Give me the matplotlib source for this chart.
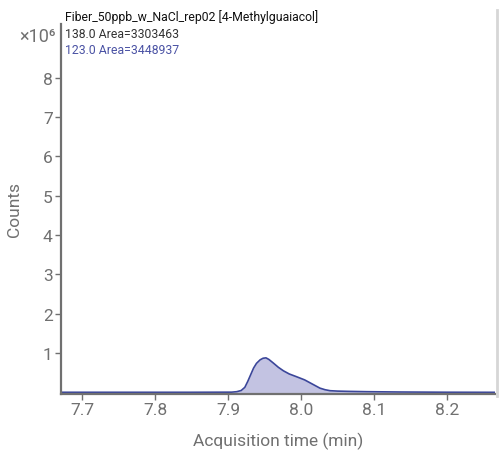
import matplotlib
matplotlib.use("Agg")
import matplotlib.pyplot as plt
from matplotlib.lines import Line2D
import numpy as np

plt.rcParams["font.family"] = ["Roboto", "DejaVu Sans"]

# trace 123.0 (counts in units of 1e6)
time_min = [7.671, 7.85, 7.905, 7.912, 7.918, 7.923, 7.927, 7.931, 7.935, 7.939,
            7.944, 7.948, 7.952, 7.956, 7.962, 7.969, 7.976, 7.984, 7.994,
            8.005, 8.012, 8.019, 8.026, 8.033, 8.040, 8.050, 8.065,
            8.090, 8.135, 8.200, 8.266]
counts = [0.005, 0.005, 0.008, 0.02, 0.05, 0.13, 0.28, 0.45, 0.62, 0.74,
          0.83, 0.87, 0.88, 0.84, 0.75, 0.64, 0.55, 0.47, 0.40,
          0.32, 0.25, 0.18, 0.11, 0.07, 0.045, 0.035, 0.028,
          0.02, 0.012, 0.006, 0.004]

title = "Fiber_50ppb_w_NaCl_rep02 [4-Methylguaiacol]"
legend_lines = ["138.0 Area=3303463", "123.0 Area=3448937"]
legend_colors = ["#333333", "#4a52a4"]
x_ticks = [7.7, 7.8, 7.9, 8.0, 8.1, 8.2]
y_ticks = [1, 2, 3, 4, 5, 6, 7, 8]

grey = "#707070"
line_color = "#3b469a"
fill_color = "#c3c3e2"

fig = plt.figure(figsize=(5.0, 4.52), dpi=100)
ax = fig.add_axes([0.122, 0.126, 0.868, 0.819])

t = np.array(time_min)
c = np.array(counts)
ax.fill_between(t, 0, c, color=fill_color, linewidth=0)
ax.plot(t, c, color=line_color, linewidth=1.2)

ax.set_xlim(7.671, 8.266)
ax.set_ylim(-0.04, 9.37)
ax.set_xticks(x_ticks)
ax.set_xticklabels([f"{v:.1f}" for v in x_ticks])
ax.set_yticks(y_ticks)
ax.set_yticklabels([str(v) for v in y_ticks])

for side in ("top", "right"):
    ax.spines[side].set_visible(False)
for side in ("left", "bottom"):
    ax.spines[side].set_color(grey)
    ax.spines[side].set_linewidth(1.6)
ax.tick_params(colors=grey, labelsize=12.5, length=4, width=1, pad=2)
ax.set_xlabel("Acquisition time (min)", fontsize=12.5, color=grey, labelpad=10)
ax.set_ylabel("Counts", fontsize=12.5, color=grey, labelpad=15)

# header texts
fig.text(0.13, 1 - 17 / 452, title, fontsize=8.8, color="#111111", va="center", ha="left")
for i, (txt, col) in enumerate(zip(legend_lines, legend_colors)):
    fig.text(0.13, 1 - (34 + 16 * i) / 452, txt, fontsize=8.8, color=col,
             va="center", ha="left")
fig.text(0.112, 1 - 37 / 452, "×10⁶", fontsize=13, color=grey, va="center", ha="right")

# pane border on the right
fig.add_artist(Line2D([497 / 500, 497 / 500], [1 - 11 / 452, 1 - 397 / 452],
                      color="#d6d6d6", linewidth=2, transform=fig.transFigure))

fig.savefig("out.png", dpi=100)
